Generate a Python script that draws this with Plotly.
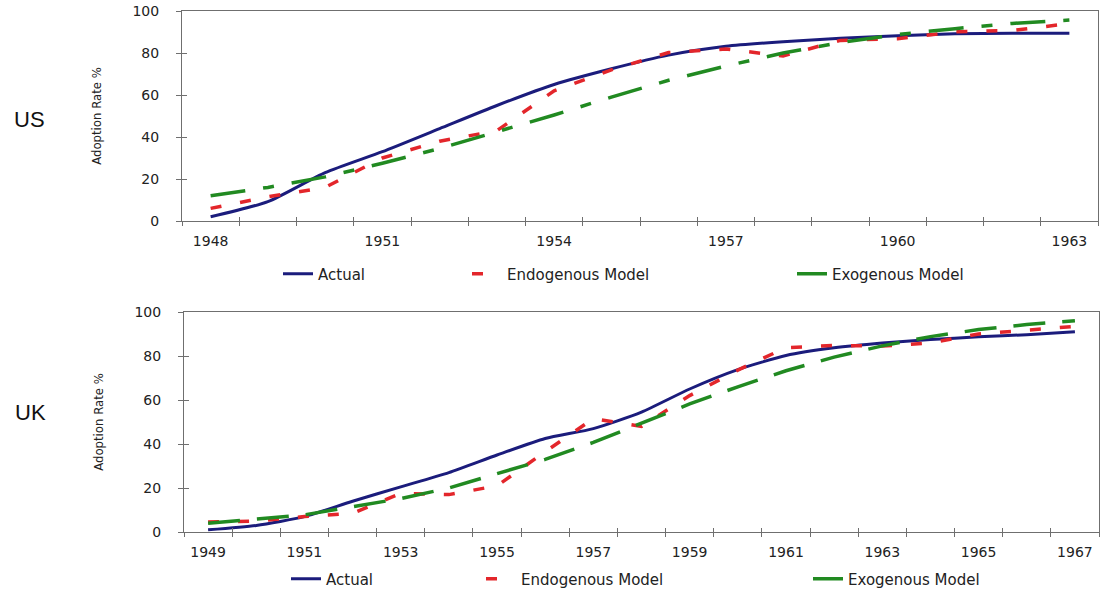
import plotly.graph_objects as go

# ---------------- data ----------------
us_years = list(range(1948, 1964))
us_actual = [2, 9.2, 23, 33, 44, 55, 65, 72.5, 79, 83.2, 85.4, 87, 88.2, 89.2, 89.4, 89.4]
us_endog = [6, 11.5, 16, 30, 38, 43, 62, 72, 80.2, 81.9, 78.6, 86, 86.8, 90.1, 90.7, 94]
us_exog = [12, 16, 21, 27.5, 34.5, 42.5, 50.5, 59, 67, 73.8, 80, 85, 88.8, 91.6, 94.1, 95.7]
us_ticks = [1948, 1951, 1954, 1957, 1960, 1963]

uk_years = list(range(1949, 1968))
uk_actual = [1, 3, 7, 14, 20.5, 27, 35, 42.5, 47, 54.5, 65, 73.8, 80.2, 83.7, 85.9, 87.5, 88.7, 89.7, 91]
uk_endog = [4.5, 5, 7, 8.5, 17.5, 17, 21, 36.5, 51.5, 48, 62, 73.6, 83.8, 84.8, 84.5, 86, 90, 91.7, 93.5]
uk_exog = [4, 5.8, 7.8, 11.5, 15.2, 20, 26.4, 33, 40.7, 49.3, 58.2, 66, 73.3, 79.5, 84.6, 88.8, 92, 94.3, 96]
uk_ticks = [1949, 1951, 1953, 1955, 1957, 1959, 1961, 1963, 1965, 1967]

series_names = ["Actual", "Endogenous Model", "Exogenous Model"]
y_ticks = [0, 20, 40, 60, 80, 100]

# ---------------- styles ----------------
BLUE = "#1b1c7c"
RED = "#e3262b"
GREEN = "#218a21"
TXT = "#222222"
AX = "#6f6f6f"
FONT = "Liberation Sans, Arial, sans-serif"
TICKFONT = dict(family="DejaVu Sans, Liberation Sans, sans-serif", size=14, color=TXT)

W, H = 1100, 596


def px_x(p):
    return p / W


def px_y(p):
    return 1 - p / H


fig = go.Figure()

panels = [
    dict(years=us_years, vals=[us_actual, us_endog, us_exog], ticks=us_ticks,
         xa="x", ya="y", xo="x2", yo="y2",
         green_dash="35px,18px,11px,18px",
         legends=["legend", "legend2", "legend3"],
         xdom=[px_x(182), px_x(1098)], ydom=[px_y(221), px_y(11)],
         leg_x=[278, 467, 792], leg_y=274, label="US", label_pos=(29, 119)),
    dict(years=uk_years, vals=[uk_actual, uk_endog, uk_exog], ticks=uk_ticks,
         xa="x3", ya="y3", xo="x4", yo="y4",
         green_dash="32px,17px",
         legends=["legend4", "legend5", "legend6"],
         xdom=[px_x(184), px_x(1099)], ydom=[px_y(532), px_y(312)],
         leg_x=[286, 481, 808], leg_y=579, label="UK", label_pos=(30, 412)),
]

layout_axes = {}
annotations = []
legends = {}

for p in panels:
    yrs = p["years"]
    xr = [yrs[0] - 0.5, yrs[-1] + 0.5]
    styles = [
        dict(color=BLUE, width=3, shape="spline", smoothing=0.6),
        dict(color=RED, width=3.5, dash="11px,19px"),
        dict(color=GREEN, width=3.5, dash=p["green_dash"]),
    ]
    for name, vals, st, lg in zip(series_names, p["vals"], styles, p["legends"]):
        fig.add_trace(go.Scatter(
            x=yrs, y=vals, mode="lines", name=name, line=st,
            xaxis=p["xa"], yaxis=p["ya"], legend=lg, showlegend=True,
        ))
    # empty helper traces so the overlay (inside-tick) axes are drawn
    fig.add_trace(go.Scatter(x=[], y=[], xaxis=p["xo"], yaxis=p["ya"],
                             showlegend=False, hoverinfo="skip"))
    fig.add_trace(go.Scatter(x=[], y=[], xaxis=p["xa"], yaxis=p["yo"],
                             showlegend=False, hoverinfo="skip"))

    xa_key = "xaxis" + p["xa"][1:]
    ya_key = "yaxis" + p["ya"][1:]
    xo_key = "xaxis" + p["xo"][1:]
    yo_key = "yaxis" + p["yo"][1:]
    boundaries = [y + 0.5 for y in range(yrs[0] - 1, yrs[-1] + 1)]

    layout_axes[xa_key] = dict(
        domain=p["xdom"], anchor=p["ya"], range=xr,
        tickmode="array", tickvals=p["ticks"], ticktext=[str(t) for t in p["ticks"]],
        ticks="", showgrid=False, zeroline=False,
        showline=True, linecolor=AX, linewidth=1, mirror=True,
        tickfont=TICKFONT, ticklabelstandoff=7, automargin=False,
        minor=dict(tickmode="array", tickvals=boundaries, ticks="outside",
                   ticklen=4, tickcolor=AX, tickwidth=1, showgrid=False),
    )
    layout_axes[xo_key] = dict(
        overlaying=p["xa"], anchor=p["ya"], side="bottom", range=xr,
        tickmode="array", tickvals=boundaries, ticks="inside", ticklen=4,
        tickcolor=AX, tickwidth=1, showticklabels=False, showgrid=False,
        zeroline=False, showline=False,
    )
    layout_axes[ya_key] = dict(
        domain=p["ydom"], anchor=p["xa"], range=[0, 100],
        tickmode="array", tickvals=y_ticks, ticks="outside", ticklen=5,
        tickcolor=AX, tickwidth=1, showgrid=False, zeroline=False,
        showline=True, linecolor=AX, linewidth=1, mirror=True,
        tickfont=TICKFONT, ticklabelstandoff=14, automargin=False,
        title=dict(text="Adoption Rate %", standoff=27,
                   font=dict(family="Liberation Sans Narrow, DejaVu Sans Condensed, sans-serif",
                             size=13, color=TXT)),
    )
    layout_axes[yo_key] = dict(
        overlaying=p["ya"], anchor=p["xa"], side="left", range=[0, 100],
        tickmode="array", tickvals=y_ticks, ticks="inside", ticklen=5,
        tickcolor=AX, tickwidth=1, showticklabels=False, showgrid=False,
        zeroline=False, showline=False,
    )

    for lg, lx in zip(p["legends"], p["leg_x"]):
        legends[lg] = dict(
            x=px_x(lx), y=px_y(p["leg_y"]), xanchor="left", yanchor="middle",
            orientation="h", bgcolor="rgba(0,0,0,0)", borderwidth=0,
            font=dict(family="DejaVu Sans, sans-serif", size=15, color=TXT),
            itemwidth=30,
        )

    lx, ly = p["label_pos"]
    annotations.append(dict(
        text=p["label"], x=px_x(lx), y=px_y(ly), xref="paper", yref="paper",
        showarrow=False, xanchor="center", yanchor="middle",
        font=dict(family=FONT, size=22, color="#111111"),
    ))

fig.update_layout(
    width=W, height=H,
    margin=dict(l=0, r=0, t=0, b=0, autoexpand=False),
    paper_bgcolor="white", plot_bgcolor="white",
    font=dict(family=FONT, color=TXT),
    annotations=annotations,
    **layout_axes,
    **legends,
)

# remove the browser's default 8px body margin so the figure fills the window
fig.write_html("out.html", config={"displayModeBar": False},
               post_script="document.body.style.margin='0';")
